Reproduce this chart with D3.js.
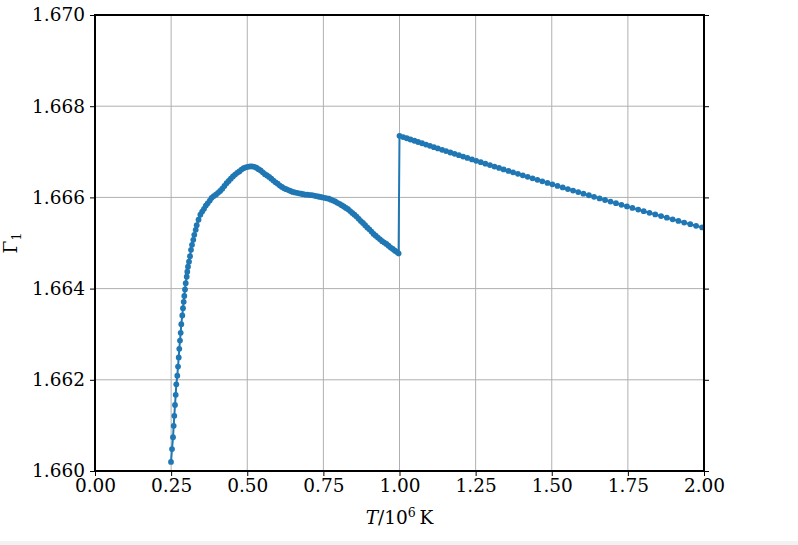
<!DOCTYPE html>
<html><head><meta charset="utf-8">
<script src="https://cdn.jsdelivr.net/npm/d3@7"></script>
<style>body{margin:0;background:#fff;} svg{display:block;}</style>
</head><body>
<svg id="chart" width="798" height="545"></svg>
<script>
const T = [0.2496,0.2529,0.2562,0.2584,0.2605,0.2627,0.2650,0.2670,0.2703,0.2726,0.2749,0.2768,0.2791,0.2814,0.2834,0.2867,0.2890,0.2913,0.2933,0.2956,0.2979,0.3012,0.3031,0.3054,0.3087,0.3120,0.3153,0.3186,0.3228,0.3261,0.3307,0.3340,
0.340,0.346,0.352,0.358,0.364,0.370,0.377,0.383,0.390,0.397,0.404,0.411,0.418,0.425,0.432,0.439,0.446,0.453,0.460,0.467,0.474,0.481,0.488,0.495,0.502,0.509,0.516,0.523,0.530,0.537,0.544,0.551,0.558,0.565,0.572,0.579,0.586,0.593,0.600,0.607,0.614,0.621,0.628,0.635,0.642,0.649,0.656,0.663,0.670,0.677,0.684,0.691,0.698,0.705,0.712,0.719,0.726,0.733,0.740,0.747,0.754,0.761,0.768,0.775,0.782,0.789,0.796,0.803,0.810,0.817,0.824,0.831,0.838,0.845,0.852,0.859,0.866,0.873,0.880,0.887,0.894,0.901,0.908,0.915,0.922,0.929,0.936,0.943,0.950,0.957,0.964,0.971,0.978,0.985,0.992,0.997,
1.000,1.012,1.024,1.036,1.049,1.061,1.074,1.087,1.100,1.113,1.126,1.140,1.153,1.167,1.181,1.195,1.209,1.223,1.238,1.252,1.267,1.282,1.297,1.312,1.327,1.342,1.358,1.373,1.389,1.405,1.421,1.437,1.453,1.469,1.486,1.502,1.519,1.536,1.553,1.570,1.587,1.604,1.622,1.639,1.657,1.675,1.693,1.711,1.729,1.747,1.765,1.784,1.802,1.821,1.840,1.859,1.878,1.897,1.916,1.935,1.955,1.974,1.994];
const gamma1 = [1.66020,1.66048,1.66074,1.66099,1.66121,1.66145,1.66167,1.66190,1.66209,1.66229,1.66249,1.66268,1.66286,1.66303,1.66322,1.66341,1.66357,1.66371,1.66384,1.66398,1.66412,1.66426,1.66437,1.66448,1.66459,1.66471,1.66485,1.66496,1.66507,1.66518,1.66529,1.66539,
1.66551,1.66562,1.66569,1.66575,1.66582,1.66587,1.66593,1.66599,1.66603,1.66606,1.66610,1.66614,1.66619,1.66625,1.66631,1.66636,1.66641,1.66646,1.66650,1.66654,1.66657,1.66661,1.66664,1.66666,1.66667,1.66668,1.66668,1.66667,1.66665,1.66662,1.66659,1.66655,1.66651,1.66648,1.66645,1.66641,1.66637,1.66633,1.66630,1.66626,1.66623,1.66620,1.66618,1.66616,1.66614,1.66612,1.66611,1.66610,1.66609,1.66608,1.66607,1.66606,1.66606,1.66605,1.66605,1.66604,1.66603,1.66602,1.66601,1.66600,1.66599,1.66598,1.66597,1.66595,1.66593,1.66591,1.66588,1.66586,1.66583,1.66580,1.66577,1.66574,1.66570,1.66566,1.66562,1.66558,1.66553,1.66548,1.66544,1.66539,1.66534,1.66530,1.66525,1.66520,1.66516,1.66512,1.66508,1.66504,1.66501,1.66498,1.66494,1.66490,1.66487,1.66483,1.66480,1.66477,
1.667350,1.667323,1.667297,1.667270,1.667242,1.667215,1.667187,1.667158,1.667130,1.667102,1.667074,1.667043,1.667015,1.666985,1.666955,1.666925,1.666895,1.666865,1.666833,1.666803,1.666772,1.666740,1.666708,1.666677,1.666646,1.666614,1.666581,1.666550,1.666517,1.666484,1.666451,1.666418,1.666385,1.666353,1.666318,1.666286,1.666252,1.666218,1.666183,1.666150,1.666116,1.666082,1.666047,1.666013,1.665978,1.665943,1.665908,1.665873,1.665838,1.665803,1.665769,1.665732,1.665698,1.665662,1.665626,1.665591,1.665555,1.665520,1.665484,1.665449,1.665412,1.665377,1.665341];
const xTicks = [0.00,0.25,0.50,0.75,1.00,1.25,1.50,1.75,2.00];
const yTicks = [1.660,1.662,1.664,1.666,1.668,1.670];

const svg = d3.select("#chart");
const L=95, R=704, Tp=15, B=471;
const x = d3.scaleLinear().domain([0,2]).range([L,R]);
const y = d3.scaleLinear().domain([1.660,1.670]).range([B,Tp]);
const font = "DejaVu Serif, serif";
const color = "#1f77b4";
const fs = 18.5;

svg.append("rect").attr("x",0).attr("y",541).attr("width",798).attr("height",4).attr("fill","#f2f2f2");

// grid
const g = svg.append("g");
g.selectAll(".gx").data(xTicks).enter().append("line")
  .attr("x1",d=>x(d)).attr("x2",d=>x(d)).attr("y1",Tp).attr("y2",B)
  .attr("stroke","#b0b0b0").attr("stroke-width",1);
g.selectAll(".gy").data(yTicks).enter().append("line")
  .attr("y1",d=>y(d)).attr("y2",d=>y(d)).attr("x1",L).attr("x2",R)
  .attr("stroke","#b0b0b0").attr("stroke-width",1);

// data
svg.append("clipPath").attr("id","clip").append("rect")
  .attr("x",L).attr("y",Tp).attr("width",R-L).attr("height",B-Tp);
const data = T.map((t,i)=>[t,gamma1[i]]);
const pg = svg.append("g").attr("clip-path","url(#clip)");
pg.append("path").datum(data)
  .attr("d", d3.line().x(d=>x(d[0])).y(d=>y(d[1])))
  .attr("fill","none").attr("stroke",color).attr("stroke-width",2);
pg.selectAll("circle").data(data).enter().append("circle")
  .attr("cx",d=>x(d[0])).attr("cy",d=>y(d[1])).attr("r",2.9).attr("fill",color);

// axes
const fmtX = d3.format(".2f"), fmtY = d3.format(".3f");
const ax = svg.append("g").attr("transform",`translate(0,${B})`)
  .call(d3.axisBottom(x).tickValues(xTicks).tickFormat(fmtX).tickSize(5).tickPadding(3));
const ay = svg.append("g").attr("transform",`translate(${L},0)`)
  .call(d3.axisLeft(y).tickValues(yTicks).tickFormat(fmtY).tickSize(5).tickPadding(5));
const ar = svg.append("g").attr("transform",`translate(${R},0)`)
  .call(d3.axisRight(y).tickValues(yTicks).tickFormat("").tickSize(5));
[ax,ay,ar].forEach(a=>{
  a.select(".domain").remove();
  a.selectAll(".tick line").attr("stroke","#000").attr("stroke-width",1);
  a.selectAll(".tick text").attr("font-family",font).attr("font-size",fs).attr("fill","#000");
});
// spines
svg.append("rect").attr("x",L).attr("y",Tp).attr("width",R-L).attr("height",B-Tp)
  .attr("fill","none").attr("stroke","#000").attr("stroke-width",2);

// labels
const xl = svg.append("text").attr("x",(L+R)/2).attr("y",524).attr("text-anchor","middle")
  .attr("font-family",font).attr("font-size",fs);
xl.append("tspan").attr("font-style","italic").text("T");
xl.append("tspan").text("/10");
xl.append("tspan").attr("font-size",12.5).attr("dy",-7).text("6");
xl.append("tspan").attr("dy",7).text("\u2009K");

const yl = svg.append("text").attr("transform",`translate(17,${(Tp+B)/2}) rotate(-90)`)
  .attr("text-anchor","middle").attr("font-family",font).attr("font-size",fs);
yl.append("tspan").text("Γ");
yl.append("tspan").attr("font-size",12.5).attr("dy",4).text("1");
</script>
</body></html>
